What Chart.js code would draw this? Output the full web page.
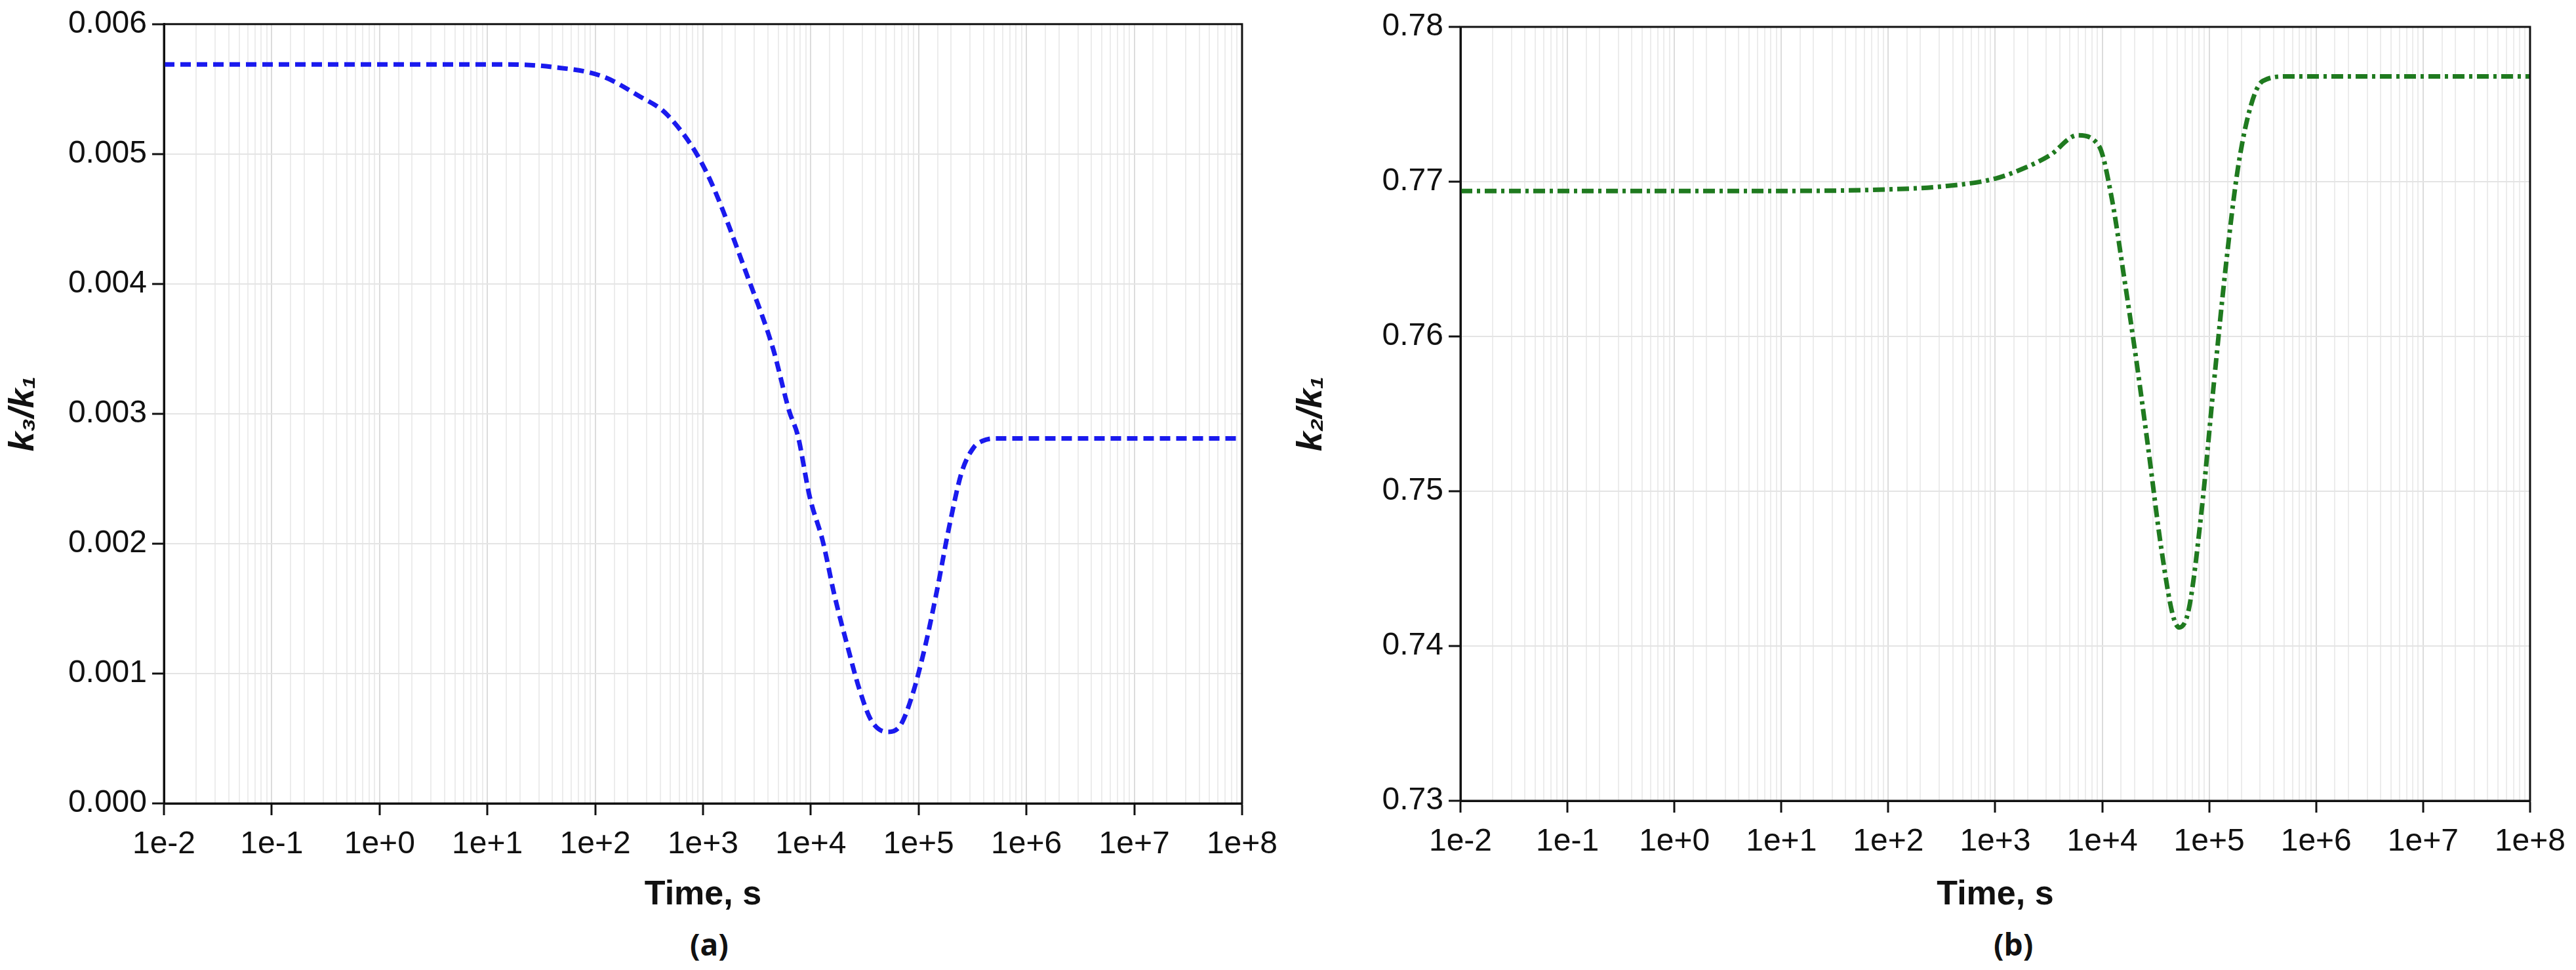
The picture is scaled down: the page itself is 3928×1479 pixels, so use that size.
<!DOCTYPE html>
<html lang="en">
<head>
  <meta charset="UTF-8" />
  <title>k3/k1 and k2/k1 vs time</title>
  <script src="https://cdn.jsdelivr.net/npm/chart.js"></script>
  <style>
    body { margin: 0; background: #fff; width: 3928px; height: 1479px; position: relative; overflow: hidden;
           font-family: 'Liberation Sans', Arial, sans-serif; }
    .panel { position: absolute; top: 0; width: 1964px; height: 1400px; }
    .caption { position: absolute; top: 1408px; font: bold 46px 'Open Sans', 'Liberation Sans', sans-serif; color: #111; }
  </style>
</head>
<body>
  <div class="panel" style="left:0"><canvas id="chartA"></canvas></div>
  <div class="panel" style="left:1964px"><canvas id="chartB"></canvas></div>
  <div class="caption" style="left:1052px">(a)</div>
  <div class="caption" style="left:3040px">(b)</div>

  <script>
    // time (s) and ratios
    const timeA = [0.01, 0.1, 1, 15.5, 40, 115, 251, 468, 1047, 2690, 4470, 6310, 7590, 9770, 12900, 16600, 21900, 28200, 36300, 51300, 67600, 87100, 115000, 148000, 191000, 251000, 324000, 389000, 501000, 1e6, 1e7, 1e8];
    const k3k1 = [0.00569, 0.00569, 0.00569, 0.00569, 0.00567, 0.0056, 0.00545, 0.0053, 0.00488, 0.00402, 0.0035, 0.00302, 0.00283, 0.00236, 0.00202, 0.0016, 0.00121, 0.00088, 0.00064, 0.00055, 0.0006, 0.00083, 0.00121, 0.00164, 0.00212, 0.00255, 0.00274, 0.00279, 0.00281, 0.00281, 0.00281, 0.00281];

    const timeB = [0.01, 0.1, 1, 10, 100, 331, 1000, 1900, 3240, 5890, 9330, 12300, 15800, 20900, 26900, 35500, 45700, 52500, 64600, 85100, 110000, 145000, 186000, 245000, 316000, 537000, 1e6, 1e7, 1e8];
    const k2k1 = [0.7694, 0.7694, 0.7694, 0.7694, 0.7695, 0.7697, 0.7702, 0.7709, 0.7717, 0.773, 0.7723, 0.7689, 0.7641, 0.7584, 0.7528, 0.7464, 0.742, 0.7412, 0.7424, 0.7488, 0.7568, 0.7649, 0.7709, 0.7749, 0.7765, 0.7768, 0.7768, 0.7768, 0.7768];

    const yTicksA = [0, 0.001, 0.002, 0.003, 0.004, 0.005, 0.006];
    const yTicksB = [0.73, 0.74, 0.75, 0.76, 0.77, 0.78];

    const isDecade = v => Math.abs(Math.log10(v) - Math.round(Math.log10(v))) < 1e-6;
    const expLabel = v => { const e = Math.round(Math.log10(v)); return '1e' + (e >= 0 ? '+' : '') + e; };

    const boxPlugin = {
      id: 'box',
      afterDraw(chart) {
        const { ctx, chartArea: a } = chart;
        ctx.save();
        ctx.strokeStyle = '#111';
        ctx.lineWidth = 3;
        ctx.strokeRect(a.left, a.top, a.right - a.left, a.bottom - a.top);
        ctx.restore();
      }
    };

    function makeChart(id, times, values, color, dash, yTicks, yTitle, yWidth, padTop, xHeight, decimals) {
      return new Chart(document.getElementById(id), {
        type: 'line',
        data: {
          datasets: [{
            data: times.map((t, i) => ({ x: t, y: values[i] })),
            borderColor: color,
            borderWidth: 7,
            borderDash: dash,
            pointRadius: 0,
            cubicInterpolationMode: 'monotone',
            fill: false
          }]
        },
        options: {
          responsive: true,
          maintainAspectRatio: false,
          animation: false,
          layout: { padding: { top: padTop, right: 64, bottom: 0, left: 0 } },
          plugins: { legend: { display: false }, tooltip: { enabled: false } },
          scales: {
            x: {
              type: 'logarithmic',
              min: 0.01,
              max: 1e8,
              afterFit: s => { s.height = xHeight; },
              border: { color: '#111', width: 3 },
              grid: {
                color: c => isDecade(c.tick.value) ? '#dcdcdc' : '#ececec',
                lineWidth: 2,
                tickColor: c => isDecade(c.tick.value) ? '#111' : 'rgba(0,0,0,0)',
                tickLength: 18,
                tickWidth: 3
              },
              ticks: {
                autoSkip: false,
                maxRotation: 0,
                color: '#111',
                padding: 16,
                font: { size: 48, family: 'Liberation Sans' },
                callback: v => isDecade(v) ? expLabel(v) : ''
              },
              title: { display: true, text: 'Time, s', color: '#111', padding: { top: 14 },
                       font: { size: 52, weight: 'bold', family: 'Liberation Sans' } }
            },
            y: {
              min: yTicks[0],
              max: yTicks[yTicks.length - 1],
              afterBuildTicks: s => { s.ticks = yTicks.map(v => ({ value: v })); },
              afterFit: s => { s.width = yWidth; },
              border: { color: '#111', width: 3 },
              grid: { color: '#e4e4e4', lineWidth: 2, tickColor: '#111', tickLength: 18, tickWidth: 3 },
              ticks: {
                color: '#111',
                padding: 8,
                font: { size: 48, family: 'Liberation Sans' },
                callback: v => v.toFixed(decimals)
              },
              title: { display: true, text: yTitle, color: '#111', padding: { bottom: 6 },
                       font: { size: 54, weight: 'bold', style: 'italic', family: 'Liberation Sans' } }
            }
          }
        },
        plugins: [boxPlugin]
      });
    }

    makeChart('chartA', timeA, k3k1, '#1a1aee', [16, 9], yTicksA, 'k₃/k₁', 250, 35, 175, 3);
    makeChart('chartB', timeB, k2k1, '#1f7a1f', [18, 7, 5, 7], yTicksB, 'k₂/k₁', 263, 41, 179, 2);
  </script>
</body>
</html>
